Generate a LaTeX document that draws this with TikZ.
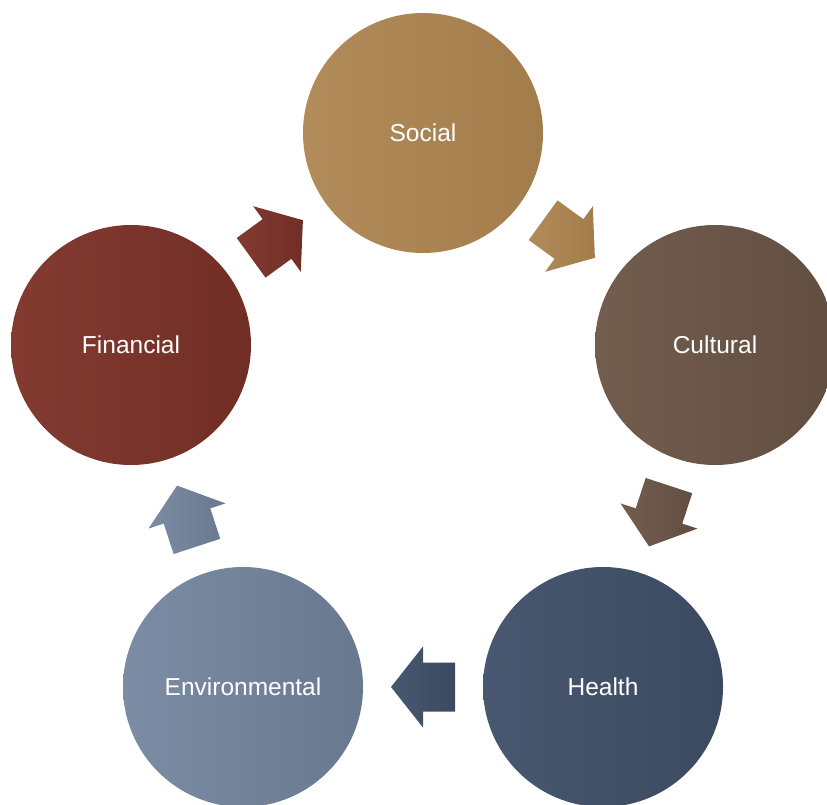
\documentclass[tikz,border=0pt]{standalone}
\usepackage{fontspec}
\setmainfont{Liberation Sans}
\usetikzlibrary{calc}
\definecolor{socL}{HTML}{B18C5A}
\definecolor{socR}{HTML}{A37C4B}
\definecolor{culL}{HTML}{725D4F}
\definecolor{culR}{HTML}{624E41}
\definecolor{heaL}{HTML}{485870}
\definecolor{heaR}{HTML}{3B4A60}
\definecolor{envL}{HTML}{7C8CA4}
\definecolor{envR}{HTML}{68798F}
\definecolor{finL}{HTML}{833B31}
\definecolor{finR}{HTML}{712E25}
\newcommand\blockarrow[3]{%
  \coordinate (m) at ($(#1.center)!0.5!(#2.center)$);
  \coordinate (t) at ($(m)!-32pt!(#2.center)$);
  \path[#3] ($(m)!32pt!(#2.center)$) -- ($(m)!40.5pt!90:(#2.center)$) -- ($(m)!24.5pt!90:(#2.center)$)
    -- ($(t)!24.5pt!90:(#2.center)$) -- ($(t)!24.5pt!-90:(#2.center)$) -- ($(m)!24.5pt!-90:(#2.center)$)
    -- ($(m)!40.5pt!-90:(#2.center)$) -- cycle;}
\begin{document}
\begin{tikzpicture}[x=1pt,y=-1pt,
  bub/.style={circle, minimum size=240pt, inner sep=0pt, text=white, font=\fontsize{24.5}{28}\selectfont},
  soc/.style={left color=socL, right color=socR},
  cul/.style={left color=culL, right color=culR},
  hea/.style={left color=heaL, right color=heaR},
  env/.style={left color=envL, right color=envR},
  fin/.style={left color=finL, right color=finR}]
\useasboundingbox (0,0) rectangle (827,805);
\node[bub, soc] (social) at (423,133) {Social};
\node[bub, cul] (cultural) at (715,345) {Cultural};
\node[bub, hea] (health) at (603,687) {Health};
\node[bub, env] (environmental) at (243,687) {Environmental};
\node[bub, fin] (financial) at (131,345) {Financial};
\blockarrow{financial}{social}{fin}
\blockarrow{social}{cultural}{soc}
\blockarrow{cultural}{health}{cul}
\blockarrow{health}{environmental}{hea}
\blockarrow{environmental}{financial}{env}
\end{tikzpicture}
\end{document}
